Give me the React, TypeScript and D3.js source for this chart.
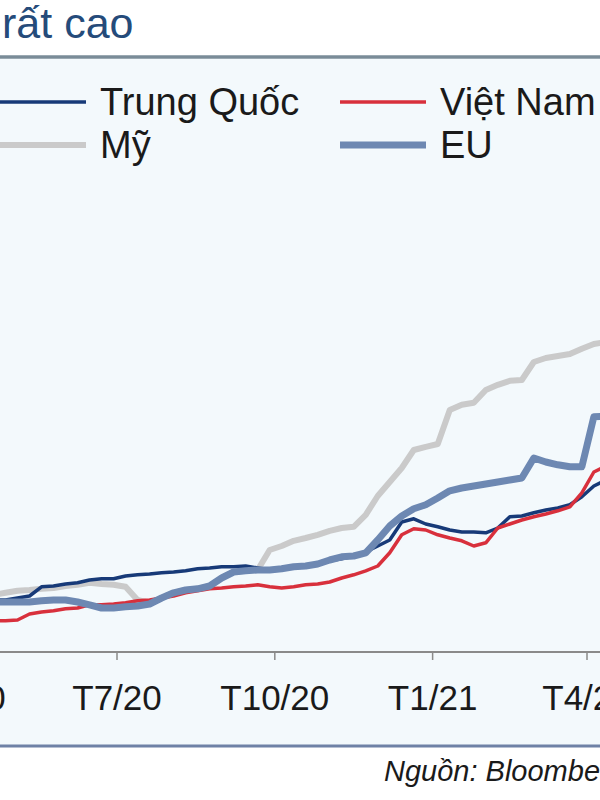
import React from "react";
import * as d3 from "d3";

const dates = [
  "2020-04-20","2020-04-27","2020-05-04","2020-05-11","2020-05-18","2020-05-25","2020-06-01","2020-06-08",
  "2020-06-15","2020-06-22","2020-06-29","2020-07-06","2020-07-13","2020-07-20","2020-07-27","2020-08-03",
  "2020-08-10","2020-08-17","2020-08-24","2020-08-31","2020-09-07","2020-09-14","2020-09-21","2020-09-28",
  "2020-10-05","2020-10-12","2020-10-19","2020-10-26","2020-11-02","2020-11-09","2020-11-16","2020-11-23",
  "2020-11-30","2020-12-07","2020-12-14","2020-12-21","2020-12-28","2021-01-04","2021-01-11","2021-01-18",
  "2021-01-25","2021-02-01","2021-02-08","2021-02-15","2021-02-22","2021-03-01","2021-03-08","2021-03-15",
  "2021-03-22","2021-03-29","2021-04-05","2021-04-12"
];

const trungQuoc = [15,15,15.5,16,18.3,18.5,19,19.3,20,20.3,20.3,21,21.3,21.5,21.8,22,22.3,22.8,23,23.3,23.3,23.5,23,22.5,22.8,23,23.5,24,24.8,25.3,26,27,28.5,30,34.5,35.3,34,33.3,32.5,32,32,31.8,33,35.8,36,36.8,37.5,38,38.8,40.8,43.5,45];
const vietNam = [9.8,9.8,10,11.5,12,12.3,12.8,13,13.8,13.8,14,14.3,14.8,15,15.5,16,16.8,17.3,17.8,18,18.3,18.5,18.8,18.3,18,18.3,18.8,19,19.5,20.5,21.3,22.3,23.5,26.8,31.3,32.8,32.5,31.3,30.5,29.8,28.5,29.3,33,34,35,35.8,36.5,37.3,38.3,41.8,47,48.5];
const my = [16.3,16.8,17.3,17.5,17.8,18,18.5,18.8,19.3,19,18.8,18.3,15,14.3,15.5,16.8,17.5,17.8,18.5,20.5,22,22.3,22.5,27.5,28.5,29.8,30.5,31.3,32.3,33,33.3,36.3,41,44.5,48,52.5,53.3,54,62.5,63.8,64.3,67.5,68.8,69.8,70,74.5,75.5,76,76.5,77.8,79,79.5];
const eu = [14.5,14.5,14.5,14.5,14.8,15,15,14.5,13.8,13,13,13.3,13.5,14,15.5,16.8,17.5,17.8,18.5,20.5,22,22.3,22.5,22.5,22.8,23.3,23.5,24,25,25.8,26,26.8,30,33.5,36,37.8,38.8,40.5,42.3,43,43.5,44,44.5,45,45.5,50.5,49.5,48.8,48.3,48.3,60.8,61];

const tickDates = ["2020-04-01","2020-07-01","2020-10-01","2021-01-01","2021-04-01"];
const tickLabels = ["T4/20","T7/20","T10/20","T1/21","T4/21"];

const seriesNames = ["Trung Quốc", "Việt Nam", "Mỹ", "EU"];

export default function App() {
  const W = 600, H = 800;
  const parse = d3.timeParse("%Y-%m-%d");
  const xs = dates.map((d) => parse(d) as Date);
  const x = d3.scaleTime()
    .domain([parse("2020-07-01") as Date, parse("2021-04-01") as Date])
    .range([117, 587]);
  const y = d3.scaleLinear().domain([0, 100]).range([660, 260]);
  const line = d3.line<number>()
    .x((_, i) => x(xs[i]))
    .y((v) => y(v));

  const styles: Record<string, { color: string; width: number }> = {
    "Trung Quốc": { color: "#173a78", width: 3.5 },
    "Việt Nam": { color: "#d8303c", width: 3.5 },
    "Mỹ": { color: "#cacaca", width: 6 },
    "EU": { color: "#6d88b2", width: 7 },
  };
  const dataByName: Record<string, number[]> = {
    "Trung Quốc": trungQuoc,
    "Việt Nam": vietNam,
    "Mỹ": my,
    "EU": eu,
  };
  const drawOrder = ["Mỹ", "Trung Quốc", "Việt Nam", "EU"];

  const axisY = 652;
  const font = "'Liberation Sans', Arial, sans-serif";

  const legendPos = [
    { name: seriesNames[0], lx: 0, ly: 102 },
    { name: seriesNames[1], lx: 340, ly: 102 },
    { name: seriesNames[2], lx: 0, ly: 145 },
    { name: seriesNames[3], lx: 340, ly: 145 },
  ];

  return (
    <svg width={W} height={H} style={{ position: "absolute", left: 0, top: 0, background: "#ffffff" }}>
      <defs>
        <clipPath id="plotClip">
          <rect x={0} y={60} width={W} height={axisY - 60} />
        </clipPath>
      </defs>
      <rect x={0} y={0} width={W} height={H} fill="#ffffff" />
      <rect x={0} y={59} width={W} height={686} fill="#f3f9fc" />
      <text x={2} y={38} fontFamily={font} fontSize={43} fill="#254b7a">rất cao</text>
      <line x1={0} x2={W} y1={57} y2={57} stroke="#7a8c98" strokeWidth={3.5} />

      {legendPos.map((l) => (
        <g key={l.name}>
          <line x1={l.lx} x2={l.lx + 86} y1={l.ly} y2={l.ly} stroke={styles[l.name].color} strokeWidth={styles[l.name].width} />
          <text x={l.lx + 100} y={l.ly + 13} fontFamily={font} fontSize={38} fill="#1a1a1a">{l.name}</text>
        </g>
      ))}

      <g clipPath="url(#plotClip)">
        {drawOrder.map((n) => (
          <path key={n} d={line(dataByName[n]) || ""} fill="none" stroke={styles[n].color}
            strokeWidth={styles[n].width} strokeLinejoin="round" strokeLinecap="round" />
        ))}
      </g>

      <line x1={0} x2={W} y1={axisY} y2={axisY} stroke="#8a8a8a" strokeWidth={2} />
      {tickDates.map((t, i) => {
        const tx = x(parse(t) as Date);
        return (
          <g key={t}>
            <line x1={tx} x2={tx} y1={axisY} y2={axisY + 8} stroke="#8a8a8a" strokeWidth={1.5} />
            <text x={tx} y={710} textAnchor="middle" fontFamily={font} fontSize={35} fill="#1a1a1a">{tickLabels[i]}</text>
          </g>
        );
      })}

      <line x1={0} x2={W} y1={746} y2={746} stroke="#6f82a6" strokeWidth={3} />
      <text x={384} y={781} fontFamily={font} fontSize={29} fontStyle="italic" fill="#1a1a1a">Nguồn: Bloomberg</text>
    </svg>
  );
}
